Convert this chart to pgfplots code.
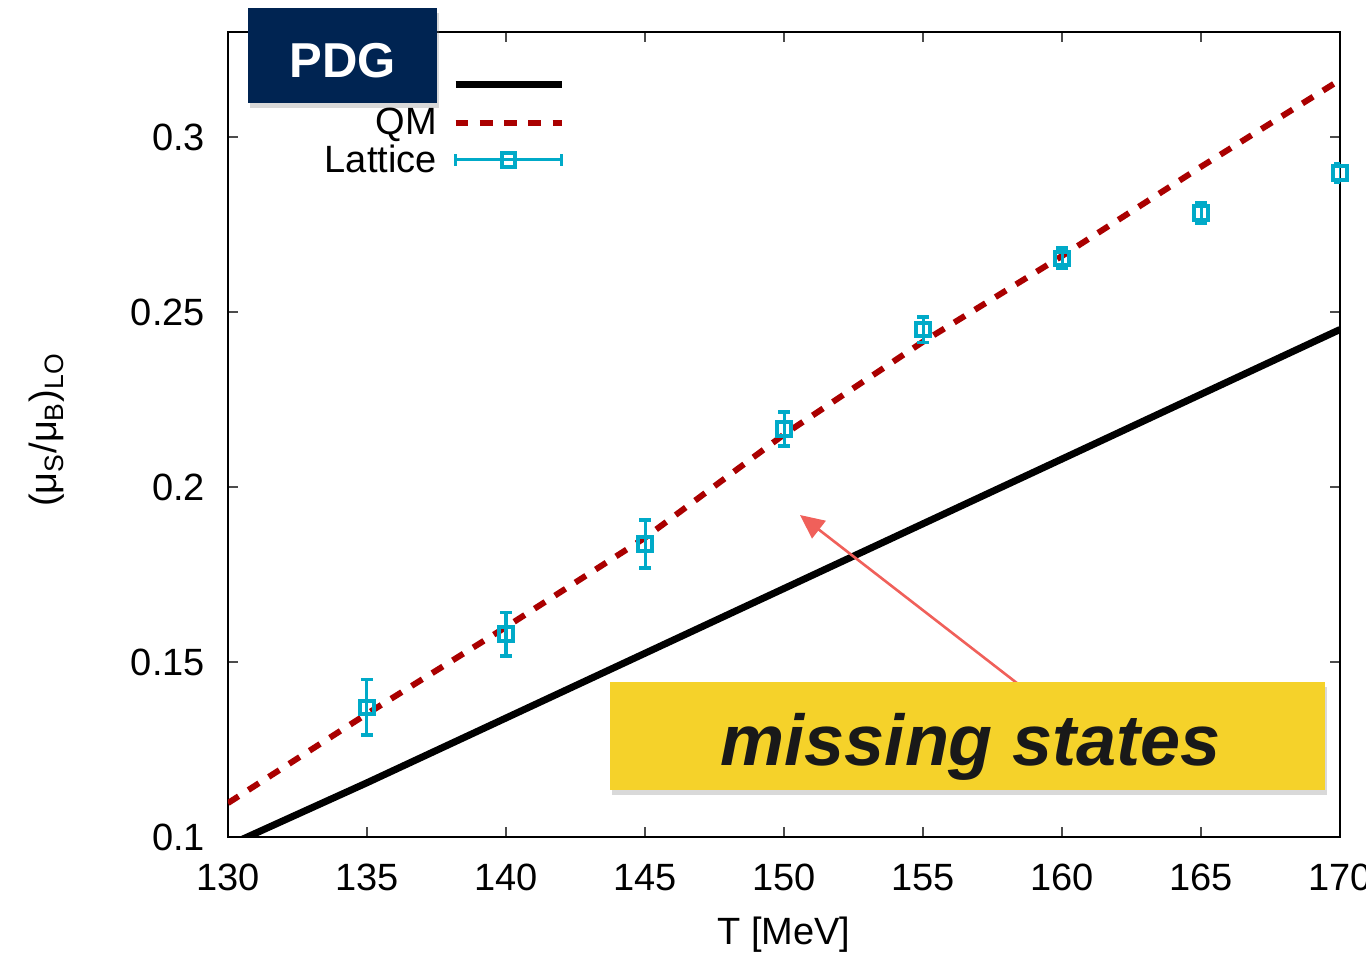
\documentclass[border=0pt]{standalone}
\usepackage{fontspec}
\setmainfont{Liberation Sans}
\usepackage{pgfplots}
\pgfplotsset{compat=1.18}
\usetikzlibrary{shadows,arrows.meta}
\definecolor{qmred}{RGB}{170,0,0}
\definecolor{latcyan}{RGB}{0,170,200}
\definecolor{pdgnavy}{RGB}{0,36,82}
\definecolor{boxyellow}{RGB}{245,210,42}
\definecolor{arrowred}{RGB}{240,96,90}
\pgfplotstableread{
T y
130 0.0975
135 0.1155
140 0.1340
145 0.1525
150 0.1710
155 0.1895
160 0.2080
165 0.2265
170 0.2450
}\pdgdata
\pgfplotstableread{
T y
130 0.1097
135 0.1352
140 0.1600
145 0.1855
150 0.2150
155 0.2415
160 0.2660
165 0.2915
170 0.3163
}\qmdata
\pgfplotstableread{
T y err
135 0.1371 0.0079
140 0.1580 0.0062
145 0.1837 0.0069
150 0.2166 0.0049
155 0.2449 0.0036
160 0.2654 0.0029
165 0.2783 0.0029
170 0.2897 0.0027
}\latdata
\begin{document}
\begin{tikzpicture}
\begin{axis}[
  at={(0,0)}, anchor=south west,
  scale only axis, width=556pt, height=402.5pt,
  xmin=130, xmax=170, ymin=0.1, ymax=0.33,
  xtick={130,135,...,170}, ytick={0.1,0.15,0.2,0.25,0.3},
  tick align=inside, major tick length=5pt,
  axis line style={line width=1pt},
  tick style={line width=0.6pt, black!70},
  clip mode=individual,
  /pgf/number format/assume math mode=true,
  tick label style={font=\fontsize{19}{22}\selectfont},
  yticklabel style={/pgf/number format/fixed, /pgf/number format/precision=2, xshift=-8pt},
  xticklabel style={/pgf/number format/1000 sep={}, yshift=-10pt},
  every axis x label/.style={at={(axis description cs:0.5,-0.1217)}, anchor=center, font=\fontsize{19}{22}\selectfont},
  every axis y label/.style={at={(axis description cs:-0.1628,0.5056)}, rotate=90, anchor=center, font=\fontsize{19}{22}\selectfont},
  xlabel={T [MeV]},
  ylabel={(μ\textsubscript{S}/μ\textsubscript{B})\textsubscript{LO}},
  legend plot pos=right, legend cell align=right,
  legend style={draw=none, fill=none, font=\fontsize{19}{22}\selectfont,
    at={(axis description cs:0.309,0.966)}, anchor=north east, row sep=-0.6pt},
]
\addplot[black, line width=3.5pt, no marks,
  legend image code/.code={\path[draw=none] (0pt,0pt)--(60.5pt,0pt);\draw[black,line width=3.5pt] (7.5pt,0pt)--(60.5pt,0pt);}]
  table[x=T,y=y] {\pdgdata};
\addlegendentry{\strut}
\addplot[qmred, line width=3pt, dash pattern=on 6.3pt off 5.8pt, no marks,
  legend image code/.code={\path[draw=none] (0pt,0pt)--(60.5pt,0pt);\draw[qmred,line width=3pt,dash pattern=on 6.3pt off 5.8pt] (7.5pt,0pt)--(60.5pt,0pt);}]
  table[x=T,y=y] {\qmdata};
\addlegendentry{QM}
\addplot[latcyan, only marks, mark=square, mark size=3.3pt,
  mark options={line width=2pt, solid},
  legend image code/.code={
    \path[draw=none] (0pt,0pt)--(60.5pt,0pt);
    \draw[latcyan,line width=1.5pt] (7.5pt,0pt)--(60.5pt,0pt);
    \draw[latcyan,line width=1.5pt] (7.5pt,-3pt)--(7.5pt,3pt) (60.5pt,-3pt)--(60.5pt,3pt);
    \draw[latcyan,line width=2pt] (30.7pt,-3.3pt) rectangle (37.3pt,3.3pt);},
  error bars/.cd, y dir=both, y explicit,
  error bar style={line width=1.5pt, latcyan},
  error mark options={rotate=90, mark size=3pt, line width=1.8pt, latcyan}]
  table[x=T,y=y,y error=err] {\latdata};
\addlegendentry{Lattice}
\end{axis}
% annotations
\draw[arrowred, line width=1.3pt, -{Triangle[length=12pt,width=11pt]}] (397pt,75pt) -- (286pt,161pt);
\node[fill=boxyellow, anchor=south west, minimum width=357.5pt, minimum height=54pt, inner sep=0pt,
  drop shadow={shadow xshift=1pt, shadow yshift=-2.5pt, opacity=0.3}] at (191pt,23.5pt) {};
\node[anchor=base, inner sep=0pt] at (371.5pt,36pt)
  {\fontsize{36}{36}\selectfont\bfseries\itshape\color{black!90}missing states};
\node[fill=pdgnavy, anchor=south west, minimum width=94.5pt, minimum height=47.5pt, inner sep=0pt,
  drop shadow={shadow xshift=1pt, shadow yshift=-2.5pt, opacity=0.3}] at (10pt,367pt) {};
\node[anchor=base, inner sep=0pt] at (57.5pt,379.5pt)
  {\fontsize{24.5}{24.5}\selectfont\bfseries\color{white}PDG};
\pgfresetboundingbox
\path (-114pt,-59pt) rectangle (569pt,418.5pt);
\end{tikzpicture}
\end{document}
